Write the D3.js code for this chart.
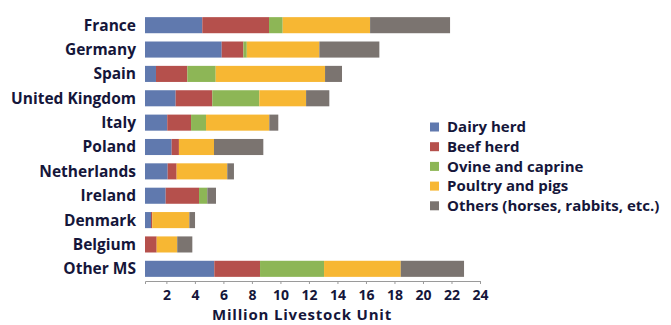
<!DOCTYPE html>
<html>
<head>
<meta charset="utf-8">
<script src="https://cdn.jsdelivr.net/npm/d3@7"></script>
<style>
  body { margin: 0; background: #fff; }
  svg text { font-family: "Open Sans", sans-serif; font-weight: 700; fill: #15163a; }
</style>
</head>
<body>
<svg id="chart" width="671" height="325"></svg>
<script>
const countries = ["France", "Germany", "Spain", "United Kingdom", "Italy", "Poland",
  "Netherlands", "Ireland", "Denmark", "Belgium", "Other MS"];
const seriesNames = ["Dairy herd", "Beef herd", "Ovine and caprine", "Poultry and pigs",
  "Others (horses, rabbits, etc.)"];
const dairy   = [4.52, 5.88, 1.27, 2.65, 2.06, 2.37, 2.09, 1.95, 0.92, 0.45, 5.36];
const beef    = [4.68, 1.52, 2.20, 2.57, 1.67, 0.51, 0.63, 2.34, 0.09, 0.87, 3.21];
const ovine   = [0.96, 0.24, 1.99, 3.30, 1.05, 0.00, 0.00, 0.58, 0.00, 0.00, 4.49];
const poultry = [6.13, 5.09, 7.67, 3.28, 4.44, 2.46, 3.55, 0.00, 2.60, 1.44, 5.38];
const others  = [5.61, 4.21, 1.19, 1.63, 0.63, 3.46, 0.47, 0.61, 0.40, 1.06, 4.44];
const xTicks = [2, 4, 6, 8, 10, 12, 14, 16, 18, 20, 22, 24];
const colors = ["#6079ae", "#b5504c", "#8db656", "#f7b733", "#7b7470"];

const rows = countries.map((c, i) => ({
  country: c,
  "Dairy herd": dairy[i],
  "Beef herd": beef[i],
  "Ovine and caprine": ovine[i],
  "Poultry and pigs": poultry[i],
  "Others (horses, rabbits, etc.)": others[i]
}));

const svg = d3.select("#chart");

// axis starts a little above zero, like the original
const x = d3.scaleLinear().domain([0.5, 24]).range([145, 480]).clamp(true);
const y = d3.scaleBand().domain(countries).range([13, 281])
  .paddingInner(0.34).paddingOuter(0.17);
const color = d3.scaleOrdinal().domain(seriesNames).range(colors);

const stacked = d3.stack().keys(seriesNames)(rows);

svg.append("g")
  .selectAll("g")
  .data(stacked)
  .enter()
  .append("g")
  .attr("fill", (d) => color(d.key))
  .selectAll("rect")
  .data((d) => d)
  .enter()
  .append("rect")
  .attr("x", (d) => x(d[0]))
  .attr("y", (d) => y(d.data.country))
  .attr("width", (d) => Math.max(0, x(d[1]) - x(d[0])))
  .attr("height", y.bandwidth());

// category labels
svg.append("g")
  .selectAll("text")
  .data(countries)
  .enter()
  .append("text")
  .attr("x", 136)
  .attr("y", (d) => y(d) + y.bandwidth() / 2)
  .attr("dy", "0.35em")
  .attr("text-anchor", "end")
  .attr("font-size", "15.5px")
  .text((d) => d);

// x axis
const xAxis = svg.append("g")
  .attr("transform", "translate(0,281)")
  .call(d3.axisBottom(x).tickValues(xTicks).tickSize(3).tickPadding(6));
xAxis.select(".domain").attr("stroke", "#9a9a9a");
xAxis.selectAll(".tick line").attr("stroke", "#9a9a9a");
xAxis.attr("font-family", null).attr("font-size", null);
xAxis.selectAll(".tick text").style("font-size", "14px");

svg.append("text")
  .attr("x", 302)
  .attr("y", 320)
  .attr("text-anchor", "middle")
  .attr("font-size", "15px")
  .attr("letter-spacing", "0.8px")
  .text("Million Livestock Unit");

// legend
const legend = svg.append("g")
  .selectAll("g")
  .data(seriesNames)
  .enter()
  .append("g")
  .attr("transform", (d, i) => `translate(430,${127 + i * 19.7})`);

legend.append("rect")
  .attr("x", 0)
  .attr("y", -4.5)
  .attr("width", 9)
  .attr("height", 9)
  .attr("fill", (d) => color(d));

legend.append("text")
  .attr("x", 17)
  .attr("dy", "0.35em")
  .attr("font-size", "15px")
  .text((d) => d);
</script>
</body>
</html>
